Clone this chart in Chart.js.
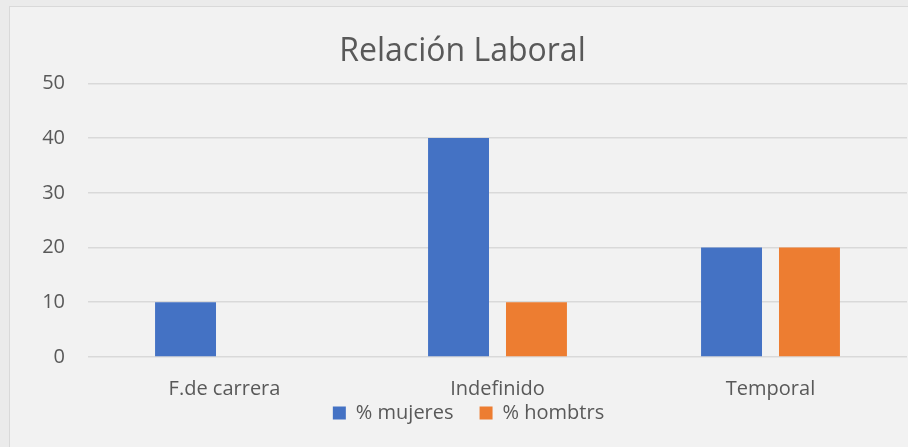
<!DOCTYPE html>
<html>
<head>
<meta charset="utf-8">
<script src="https://cdn.jsdelivr.net/npm/chart.js@4.4.0/dist/chart.umd.min.js"></script>
<style>
  html, body { margin: 0; padding: 0; background: #ebebeb; overflow: hidden; }
  #panel { position: absolute; left: 9px; top: 6px; width: 960px; height: 480px; background: #f2f2f2; border: 1px solid #d9d9d9; }
  #wrap { position: absolute; left: 0; top: 0; width: 898px; height: 440px; }
</style>
</head>
<body>
<div id="panel"><div id="wrap"><canvas id="c" width="898" height="440"></canvas></div></div>
<script>
const categories = ["F.de carrera", "Indefinido", "Temporal"];
const mujeres = [10, 40, 20];
const hombres = [0, 10, 20];
const seriesNames = ["% mujeres", "% hombtrs"];
const yTicks = [0, 10, 20, 30, 40, 50];

const FONT = "'Open Sans', sans-serif";
const TXT = "#595959";

// Let the x labels draw below the (compact) x axis box, and nudge the title.
const layoutTweaks = {
  id: 'layoutTweaks',
  afterLayout(chart) {
    const x = chart.scales.x;
    x.bottom = x.top + 70;
    const t = chart.titleBlock;
    if (t) { t.left -= 6; t.right -= 6; }
  }
};

new Chart(document.getElementById('c'), {
  type: 'bar',
  data: {
    labels: categories,
    datasets: [
      { label: seriesNames[0], data: mujeres, backgroundColor: '#4472C4', categoryPercentage: 0.571, barPercentage: 0.782 },
      { label: seriesNames[1], data: hombres, backgroundColor: '#ED7D31', categoryPercentage: 0.571, barPercentage: 0.782 }
    ]
  },
  plugins: [layoutTweaks],
  options: {
    responsive: false,
    animation: false,
    layout: { padding: { left: 20, right: 1, top: 0, bottom: 14 } },
    plugins: {
      title: {
        display: true,
        text: 'Relación Laboral',
        color: TXT,
        font: { family: FONT, size: 32, weight: 'normal' },
        padding: { top: 26, bottom: 12 }
      },
      legend: {
        position: 'bottom',
        labels: {
          color: TXT,
          font: { family: FONT, size: 20 },
          boxWidth: 13,
          boxHeight: 13,
          padding: 26
        }
      },
      tooltip: { enabled: false }
    },
    scales: {
      x: {
        grid: { display: false, drawTicks: false },
        border: { display: false },
        ticks: { color: TXT, font: { family: FONT, size: 20 }, padding: 20, autoSkip: false, maxRotation: 0 },
        afterFit: (s) => { s.height = 20; }
      },
      y: {
        min: 0, max: 50,
        afterBuildTicks: (s) => { s.ticks = yTicks.map(v => ({ value: v })); },
        grid: { color: '#d9d9d9', lineWidth: 1.6, drawTicks: false },
        border: { display: false },
        ticks: { color: TXT, font: { family: FONT, size: 20 }, padding: 23 },
        afterFit: (s) => { s.width = 58; }
      }
    }
  }
});
</script>
</body>
</html>
